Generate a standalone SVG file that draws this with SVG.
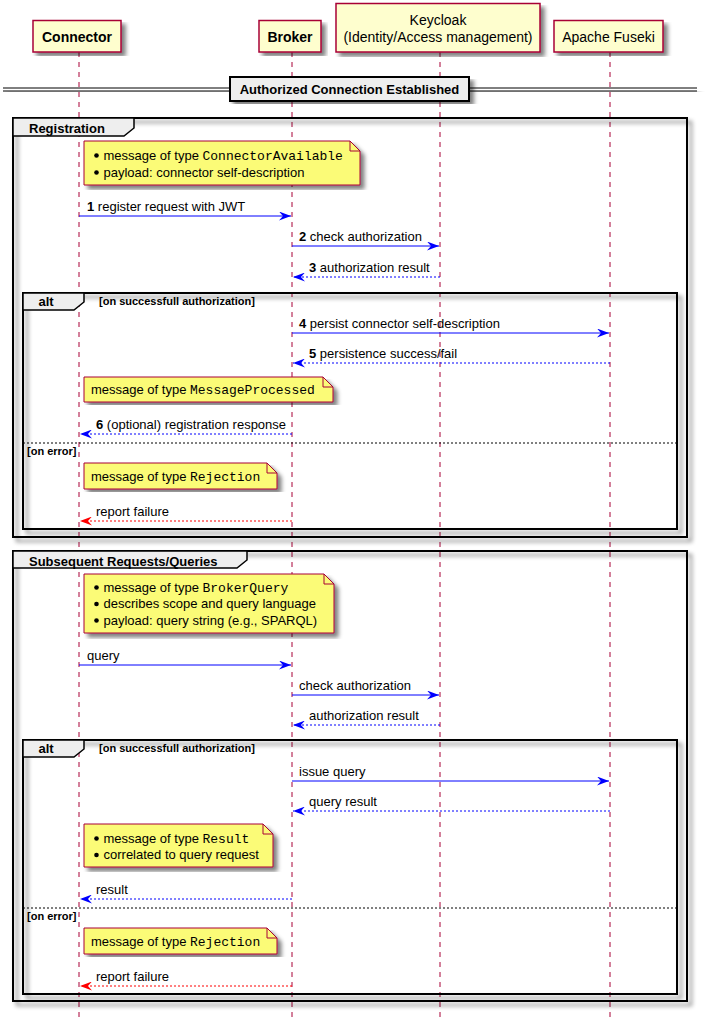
<svg xmlns="http://www.w3.org/2000/svg" width="707" height="1029" viewBox="0 0 707 1029">
<defs>
<filter id="sh" x="-5%" y="-5%" width="115%" height="115%">
<feGaussianBlur in="SourceAlpha" stdDeviation="2" result="b"/>
<feColorMatrix in="b" type="matrix" values="0 0 0 0 0  0 0 0 0 0  0 0 0 0 0  0 0 0 0.5 0" result="c"/>
<feOffset in="c" dx="4" dy="4" result="o"/>
<feMerge><feMergeNode in="o"/><feMergeNode in="SourceGraphic"/></feMerge>
</filter>
<marker id="ab" viewBox="0 0 12 9" refX="12" refY="4.5" markerWidth="12" markerHeight="9" markerUnits="userSpaceOnUse" orient="auto-start-reverse">
<polygon points="0,0 12,4.5 0,9 4,4.5" fill="#0000FF"/>
</marker>
<marker id="ar" viewBox="0 0 12 9" refX="12" refY="4.5" markerWidth="12" markerHeight="9" markerUnits="userSpaceOnUse" orient="auto-start-reverse">
<polygon points="0,0 12,4.5 0,9 4,4.5" fill="#FF0000"/>
</marker>
</defs>
<style>
text{font-family:"Liberation Sans",Arial,sans-serif;fill:#000}
.part{fill:#FEFECE;stroke:#A80036;stroke-width:1.5}
.pb{font-size:14px;font-weight:bold}
.pr{font-size:14px}
.life{stroke:#A80036;stroke-width:1;stroke-dasharray:5,5}
.frame{fill:none;stroke:#000;stroke-width:2}
.tab{fill:#EEEEEE;stroke:#000;stroke-width:1.5}
.gt{font-size:13px;font-weight:bold}
.guard{font-size:11px;font-weight:bold}
.else{stroke:#000;stroke-width:1;stroke-dasharray:2,2}
.note{fill:#FBFB77;stroke:#A80036;stroke-width:1}
.fold{fill:none;stroke:#A80036;stroke-width:1}
.nt{font-size:13px}
.mono{font-family:"Liberation Mono","Courier New",monospace}
.msg{font-size:13px}
.solid{stroke:#0000FF;stroke-width:1;fill:none}
.dash{stroke:#0000FF;stroke-width:1;stroke-dasharray:2,2;fill:none}
.rdash{stroke:#FF0000;stroke-width:1;stroke-dasharray:2,2;fill:none}
</style>
<rect width="707" height="1029" fill="#FFFFFF"/>

<g id="lifelines">
<line class="life" x1="79" y1="52" x2="79" y2="1018"/>
<line class="life" x1="292" y1="52" x2="292" y2="1018"/>
<line class="life" x1="440" y1="52" x2="440" y2="1018"/>
<line class="life" x1="610" y1="52" x2="610" y2="1018"/>
</g>

<g id="p-connector">
<rect class="part" x="33" y="20.5" width="88" height="31.5" filter="url(#sh)"/>
<text class="pb" x="77" y="41.5" text-anchor="middle">Connector</text>
</g>
<g id="p-broker">
<rect class="part" x="259" y="20.5" width="62" height="31.5" filter="url(#sh)"/>
<text class="pb" x="290" y="41.5" text-anchor="middle">Broker</text>
</g>
<g id="p-keycloak">
<rect class="part" x="336" y="3.5" width="204" height="48.5" filter="url(#sh)"/>
<text class="pr" x="438" y="25" text-anchor="middle">Keycloak</text>
<text class="pr" x="438" y="41.5" text-anchor="middle">(Identity/Access management)</text>
</g>
<g id="p-fuseki">
<rect class="part" x="554" y="20.5" width="109" height="31.5" filter="url(#sh)"/>
<text class="pr" x="608.5" y="41.5" text-anchor="middle">Apache Fuseki</text>
</g>

<g id="divider">
<g filter="url(#sh)">
<line x1="3" y1="88" x2="697" y2="88" stroke="#000" stroke-width="1"/>
<line x1="3" y1="91" x2="697" y2="91" stroke="#000" stroke-width="1"/>
</g>
<rect x="230" y="77" width="239" height="24" fill="#EEEEEE" stroke="#000" stroke-width="2" filter="url(#sh)"/>
<text class="gt" x="349.5" y="93.5" text-anchor="middle">Authorized Connection Established</text>
</g>

<g id="group-registration">
<rect class="frame" x="13" y="118" width="674" height="419" filter="url(#sh)"/>
<polygon class="tab" points="13,118 134,118 134,128 124,136 13,136"/>
<text class="gt" x="29" y="133">Registration</text>
</g>
<g id="alt-registration">
<rect class="frame" x="23" y="293" width="654" height="236" filter="url(#sh)"/>
<polygon class="tab" points="23,293 84,293 84,302 74,310 23,310"/>
<text class="gt" x="38.5" y="306">alt</text>
<text class="guard" x="99" y="305">[on successfull authorization]</text>
<line class="else" x1="23" y1="443" x2="677" y2="443"/>
<text class="guard" x="27" y="455">[on error]</text>
</g>

<g id="group-queries">
<rect class="frame" x="13" y="551" width="674" height="450" filter="url(#sh)"/>
<polygon class="tab" points="13,551 247,551 247,560 237,568 13,568"/>
<text class="gt" x="29" y="566">Subsequent Requests/Queries</text>
</g>
<g id="alt-queries">
<rect class="frame" x="23" y="740" width="654" height="254" filter="url(#sh)"/>
<polygon class="tab" points="23,740 84,740 84,749 74,757 23,757"/>
<text class="gt" x="38.5" y="753">alt</text>
<text class="guard" x="99" y="752">[on successfull authorization]</text>
<line class="else" x1="23" y1="908" x2="677" y2="908"/>
<text class="guard" x="27" y="920">[on error]</text>
</g>

<g id="note-1">
<path class="note" d="M84,141 L350,141 L360,151 L360,185 L84,185 Z" filter="url(#sh)"/>
<path class="fold" d="M350,141 L350,151 L360,151"/>
<circle cx="96.5" cy="155.5" r="2.3"/>
<text class="nt" x="103.5" y="159.5">message of type <tspan class="mono">ConnectorAvailable</tspan></text>
<circle cx="96.5" cy="172.5" r="2.3"/>
<text class="nt" x="103.5" y="176.5">payload: connector self-description</text>
</g>
<g id="note-2">
<path class="note" d="M84,377 L323,377 L333,387 L333,402 L84,402 Z" filter="url(#sh)"/>
<path class="fold" d="M323,377 L323,387 L333,387"/>
<text class="nt" x="91" y="394">message of type <tspan class="mono">MessageProcessed</tspan></text>
</g>
<g id="note-3">
<path class="note" d="M84,463 L267,463 L277,473 L277,489 L84,489 Z" filter="url(#sh)"/>
<path class="fold" d="M267,463 L267,473 L277,473"/>
<text class="nt" x="91" y="480.5">message of type <tspan class="mono">Rejection</tspan></text>
</g>
<g id="note-4">
<path class="note" d="M84,574 L324,574 L334,584 L334,633 L84,633 Z" filter="url(#sh)"/>
<path class="fold" d="M324,574 L324,584 L334,584"/>
<circle cx="96.5" cy="587.5" r="2.3"/>
<text class="nt" x="103.5" y="591.5">message of type <tspan class="mono">BrokerQuery</tspan></text>
<circle cx="96.5" cy="604" r="2.3"/>
<text class="nt" x="103.5" y="608">describes scope and query language</text>
<circle cx="96.5" cy="620.5" r="2.3"/>
<text class="nt" x="103.5" y="624.5">payload: query string (e.g., SPARQL)</text>
</g>
<g id="note-5">
<path class="note" d="M84,824 L263,824 L273,834 L273,867 L84,867 Z" filter="url(#sh)"/>
<path class="fold" d="M263,824 L263,834 L273,834"/>
<circle cx="96.5" cy="838.5" r="2.3"/>
<text class="nt" x="103.5" y="842.5">message of type <tspan class="mono">Result</tspan></text>
<circle cx="96.5" cy="855" r="2.3"/>
<text class="nt" x="103.5" y="859">correlated to query request</text>
</g>
<g id="note-6">
<path class="note" d="M84,928 L267,928 L277,938 L277,954 L84,954 Z" filter="url(#sh)"/>
<path class="fold" d="M267,928 L267,938 L277,938"/>
<text class="nt" x="91" y="945.5">message of type <tspan class="mono">Rejection</tspan></text>
</g>

<g id="connectors">
<line class="solid" x1="79" y1="216" x2="291" y2="216" marker-end="url(#ab)"/>
<text class="msg" x="87" y="211"><tspan font-weight="bold">1</tspan> register request with JWT</text>
<line class="solid" x1="292" y1="246" x2="439" y2="246" marker-end="url(#ab)"/>
<text class="msg" x="299" y="241"><tspan font-weight="bold">2</tspan> check authorization</text>
<line class="dash" x1="440" y1="277" x2="293" y2="277" marker-end="url(#ab)"/>
<text class="msg" x="309" y="272"><tspan font-weight="bold">3</tspan> authorization result</text>
<line class="solid" x1="292" y1="333" x2="609" y2="333" marker-end="url(#ab)"/>
<text class="msg" x="299" y="328"><tspan font-weight="bold">4</tspan> persist connector self-description</text>
<line class="dash" x1="610" y1="363" x2="293" y2="363" marker-end="url(#ab)"/>
<text class="msg" x="309" y="358"><tspan font-weight="bold">5</tspan> persistence success/fail</text>
<line class="dash" x1="292" y1="434" x2="80" y2="434" marker-end="url(#ab)"/>
<text class="msg" x="96" y="429"><tspan font-weight="bold">6</tspan> (optional) registration response</text>
<line class="rdash" x1="292" y1="521" x2="80" y2="521" marker-end="url(#ar)"/>
<text class="msg" x="96" y="516">report failure</text>

<line class="solid" x1="79" y1="665" x2="291" y2="665" marker-end="url(#ab)"/>
<text class="msg" x="87" y="660">query</text>
<line class="solid" x1="292" y1="695" x2="439" y2="695" marker-end="url(#ab)"/>
<text class="msg" x="299" y="690">check authorization</text>
<line class="dash" x1="440" y1="725" x2="293" y2="725" marker-end="url(#ab)"/>
<text class="msg" x="309" y="720">authorization result</text>
<line class="solid" x1="292" y1="781" x2="609" y2="781" marker-end="url(#ab)"/>
<text class="msg" x="299" y="776">issue query</text>
<line class="dash" x1="610" y1="811" x2="293" y2="811" marker-end="url(#ab)"/>
<text class="msg" x="309" y="806">query result</text>
<line class="dash" x1="292" y1="899" x2="80" y2="899" marker-end="url(#ab)"/>
<text class="msg" x="96" y="894">result</text>
<line class="rdash" x1="292" y1="986" x2="80" y2="986" marker-end="url(#ar)"/>
<text class="msg" x="96" y="981">report failure</text>
</g>
</svg>
